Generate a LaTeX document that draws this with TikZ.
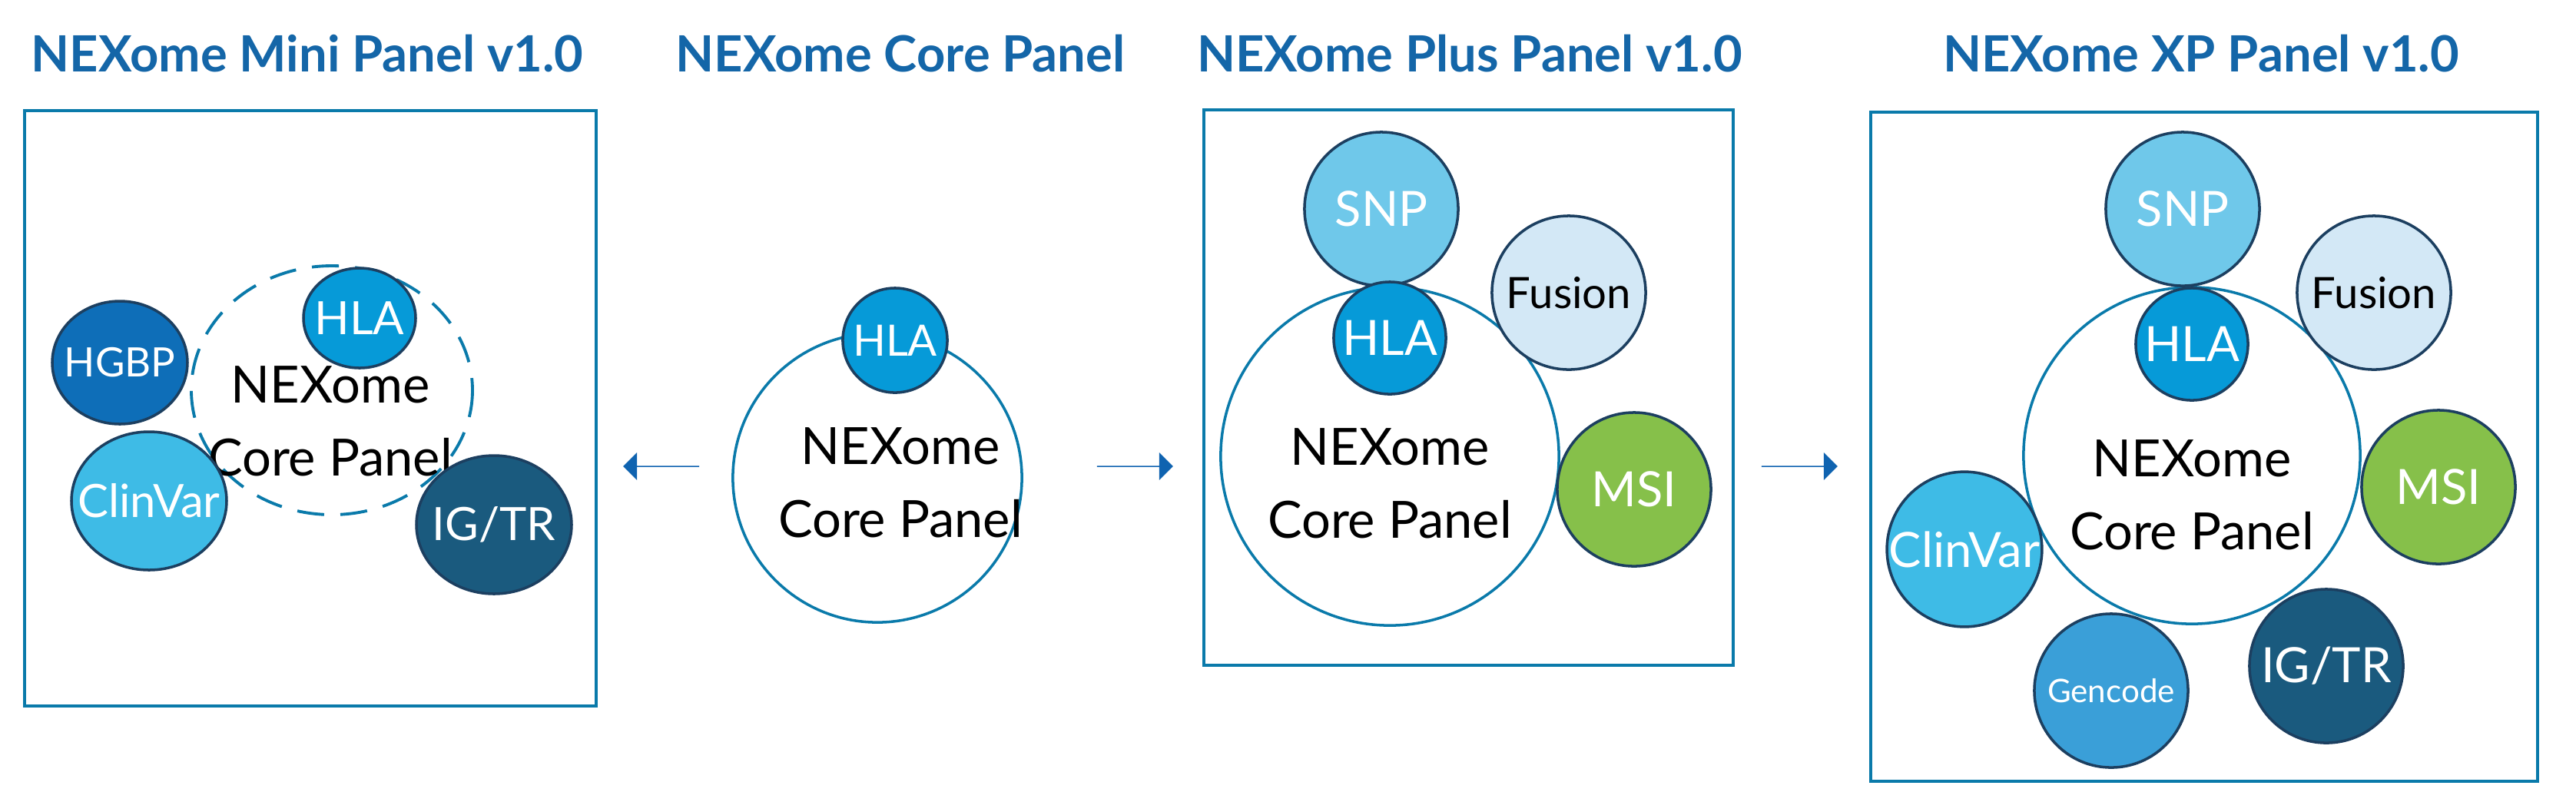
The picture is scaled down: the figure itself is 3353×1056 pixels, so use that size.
\documentclass[tikz,border=0pt]{standalone}
\usepackage{fontspec}
\setmainfont{Lato}
\usetikzlibrary{shapes.arrows}
\definecolor{ttl}{HTML}{1466A8}
\definecolor{edge}{HTML}{1C3F60}
\definecolor{boxc}{HTML}{0A7AAA}
\definecolor{cHGBP}{HTML}{0E6EB8}
\definecolor{cClin}{HTML}{3EBBE6}
\definecolor{cIG}{HTML}{1A5A7E}
\definecolor{cHLA}{HTML}{069AD8}
\definecolor{cSNP}{HTML}{6FC8EA}
\definecolor{cFus}{HTML}{D3E8F6}
\definecolor{cMSI}{HTML}{86C04A}
\definecolor{cGen}{HTML}{3A9FD8}
\definecolor{arr}{HTML}{0F63B0}
\begin{document}
\begin{tikzpicture}[x=0.01cm,y=-0.01cm,
  title/.style={text=ttl,font=\fontsize{18.5}{22}\selectfont\bfseries},
  panel/.style={draw=boxc,line width=1.1pt},
  core/.style={circle,draw=boxc,line width=1pt,fill=white,inner sep=0pt},
  sat/.style={circle,draw=edge,line width=1pt,inner sep=0pt,minimum size=2cm,text=white,font=\fontsize{18}{20}\selectfont},
  ctext/.style={align=center,font=\fontsize{19}{27}\selectfont},
  barrow/.style={single arrow,fill=arr,draw=none,minimum height=0.99cm,minimum width=0.36cm,single arrow head extend=0.16cm,single arrow head indent=0pt,inner sep=0pt,single arrow tip angle=90}]
\useasboundingbox (0,0) rectangle (3353,1056);
% titles
\node[title] (t1) at (400,70) {NEXome Mini Panel v1.0};
\node[title] (t2) at (1172,70) {NEXome Core Panel};
\node[title] (t3) at (1913,70) {NEXome Plus Panel v1.0};
\node[title] (t4) at (2865,70) {NEXome XP Panel v1.0};
% panel 1
\draw[panel] (32,144) rectangle (776,919);
\draw[boxc,line width=1.1pt,dash pattern=on 10pt off 6pt] (432,508) ellipse (183 and 162);
\node[ctext] (c1) at (430,548) {NEXome\\Core Panel};
\draw[edge,line width=1pt,fill=cHGBP] (156,472) ellipse (88 and 80);
\node[text=white,font=\fontsize{15}{18}\selectfont] (hgbp) at (156,472) {HGBP};
\draw[edge,line width=1pt,fill=cClin] (194,652) ellipse (101 and 90);
\node[text=white,font=\fontsize{17}{18}\selectfont] (clin1) at (194,652) {ClinVar};
\draw[edge,line width=1pt,fill=cIG] (643,683) ellipse (101 and 90);
\node[text=white,font=\fontsize{17}{18}\selectfont] (ig1) at (643,683) {IG/TR};
\draw[edge,line width=1pt,fill=cHLA] (468,414) ellipse (73 and 65);
\node[text=white,font=\fontsize{17}{18}\selectfont] (hla1) at (468,414) {HLA};
% arrows
\node[barrow,shape border rotate=180] (a1) at (861,607) {};
\node[barrow] (a2) at (1477,607) {};
\node[barrow] (a3) at (2342,607) {};
% panel 2
\node[core,minimum size=3.76cm] (core2) at (1142,622) {};
\node[ctext] (c2) at (1172,628) {NEXome\\Core Panel};
\node[sat,fill=cHLA,minimum size=1.36cm,font=\fontsize{16}{18}\selectfont] (hla2) at (1165,443) {HLA};
% panel 3
\draw[panel] (1567,143) rectangle (2256,866);
\node[core,minimum size=4.4cm] (core3) at (1809,594) {};
\node[ctext] (c3) at (1809,629) {NEXome\\Core Panel};
\node[sat,fill=cSNP] (snp3) at (1798,272) {SNP};
\node[sat,fill=cFus,text=black,font=\fontsize{16}{18}\selectfont] (fus3) at (2042,381) {Fusion};
\node[sat,fill=cHLA,minimum size=1.46cm] (hla3) at (1809,440) {HLA};
\node[sat,fill=cMSI] (msi3) at (2127,637) {MSI};
% panel 4
\draw[panel] (2435,146) rectangle (3303,1017);
\node[core,minimum size=4.38cm] (core4) at (2853,593) {};
\node[ctext] (c4) at (2853,644) {NEXome\\Core Panel};
\node[sat,fill=cSNP] (snp4) at (2841,272) {SNP};
\node[sat,fill=cFus,text=black,font=\fontsize{16}{18}\selectfont] (fus4) at (3090,381) {Fusion};
\node[sat,fill=cHLA,minimum size=1.46cm] (hla4) at (2853,448) {HLA};
\node[sat,fill=cMSI] (msi4) at (3174,634) {MSI};
\node[sat,fill=cClin] (clin4) at (2557,715) {ClinVar};
\node[sat,fill=cGen,font=\fontsize{12}{14}\selectfont] (gen4) at (2748,899) {Gencode};
\node[sat,fill=cIG] (ig4) at (3028,867) {IG/TR};
\end{tikzpicture}
\end{document}
